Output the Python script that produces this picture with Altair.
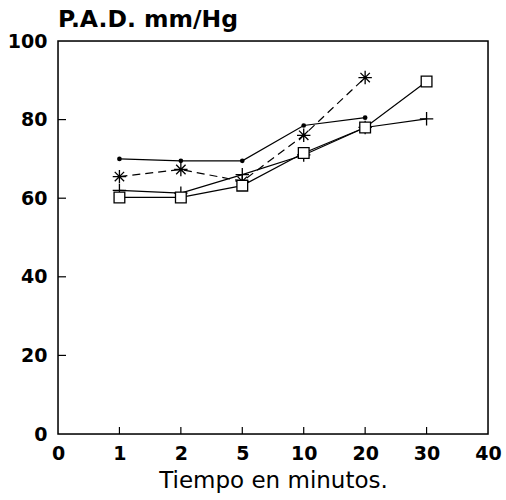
import altair as alt
import pandas as pd

tick_labels = ["0", "1", "2", "5", "10", "20", "30", "40"]
times = ["1", "2", "5", "10", "20", "30"]

s_dot = [70, 69.5, 69.5, 78.5, 80.5, None]
s_star = [65.5, 67.3, 64.3, 76, 90.7, None]
s_plus = [62, 61.3, 66, 71, 78, 80.2]
s_square = [60.2, 60.2, 63.2, 71.5, 78, 89.7]

series = {"dot": s_dot, "star": s_star, "plus": s_plus, "square": s_square}
rows = []
for name, vals in series.items():
    for t, v in zip(times, vals):
        if v is not None:
            rows.append({"serie": name, "pos": tick_labels.index(t), "t": t, "pad": v})
df = pd.DataFrame(rows)

label_expr = "[" + ",".join("'%s'" % l for l in tick_labels) + "][datum.value]"

font = "DejaVu Sans"
xenc = alt.X("pos:Q", scale=alt.Scale(domain=[0, 7], nice=False),
             axis=alt.Axis(values=list(range(8)), labelExpr=label_expr, title="Tiempo en minutos.",
                           grid=False, domain=False, ticks=False, labelFlush=False,
                           labelFont=font, labelFontSize=19, labelFontWeight="bold", labelColor="black",
                           labelPadding=10, titleFont=font, titleFontSize=23, titleFontWeight="normal",
                           titleColor="black", titlePadding=6))
yenc = alt.Y("pad:Q", scale=alt.Scale(domain=[0, 100], nice=False),
             axis=alt.Axis(values=[0, 20, 40, 60, 80, 100], title=None, grid=False, domain=False,
                           ticks=False, labelFlush=False, labelFont=font, labelFontSize=19,
                           labelFontWeight="bold", labelColor="black", labelPadding=11))

base = alt.Chart(df)

axes = base.mark_point(opacity=0).encode(x=xenc, y=yenc)

def line(name, dash=None):
    kw = dict(color="black", strokeWidth=1.2)
    if dash:
        kw["strokeDash"] = dash
    return base.transform_filter(alt.datum.serie == name).mark_line(**kw).encode(
        x="pos:Q", y="pad:Q", order="pos:Q")

lines = [line("dot"), line("star", [8, 5]), line("plus"), line("square")]

star_path = "M-1,0L1,0M0,-1L0,1M-0.7,-0.7L0.7,0.7M-0.7,0.7L0.7,-0.7"
plus_path = "M-1,0L1,0M0,-1L0,1"

pts = [
    base.transform_filter(alt.datum.serie == "dot").mark_point(
        shape="circle", filled=True, color="black", size=22, opacity=1).encode(x="pos:Q", y="pad:Q"),
    base.transform_filter(alt.datum.serie == "star").mark_point(
        shape=star_path, filled=False, color="black", size=180, strokeWidth=1.3, opacity=1).encode(x="pos:Q", y="pad:Q"),
    base.transform_filter(alt.datum.serie == "plus").mark_point(
        shape=plus_path, filled=False, color="black", size=180, strokeWidth=1.3, opacity=1).encode(x="pos:Q", y="pad:Q"),
    base.transform_filter(alt.datum.serie == "square").mark_point(
        shape="square", filled=False, color="black", size=115, strokeWidth=1.3, opacity=1,
        fill="white").encode(x="pos:Q", y="pad:Q"),
]

# inward ticks
tick_df = pd.DataFrame({"pos": [1, 2, 3, 4, 5, 6]})
xticks = alt.Chart(tick_df).mark_rule(color="black", strokeWidth=1.2).encode(
    x="pos:Q", y=alt.value(393), y2=alt.value(386))
ytick_df = pd.DataFrame({"pad": [20, 40, 60, 80]})
yticks = alt.Chart(ytick_df).mark_rule(color="black", strokeWidth=1.2).encode(
    y="pad:Q", x=alt.value(0), x2=alt.value(8))

frame = alt.Chart(pd.DataFrame({"f": [0]})).mark_rect(
    fill=None, stroke="black", strokeWidth=1.5).encode(
    x=alt.value(0), x2=alt.value(430), y=alt.value(0), y2=alt.value(393))

title = alt.Chart(pd.DataFrame({"t": ["P.A.D. mm/Hg"]})).mark_text(
    align="left", baseline="alphabetic", font=font, fontSize=23.5, fontWeight="bold", color="black"
).encode(text="t:N", x=alt.value(0), y=alt.value(-14))

chart = alt.layer(axes, frame, *lines, *pts, xticks, yticks, title).properties(
    width=430, height=393,
    padding={"left": 58, "top": 41, "right": 18, "bottom": 66},
    autosize=alt.AutoSizeParams(type="none"),
).configure_view(stroke=None).configure(background="white")

chart.save("out.html", embed_options={"renderer": "svg", "actions": False})
